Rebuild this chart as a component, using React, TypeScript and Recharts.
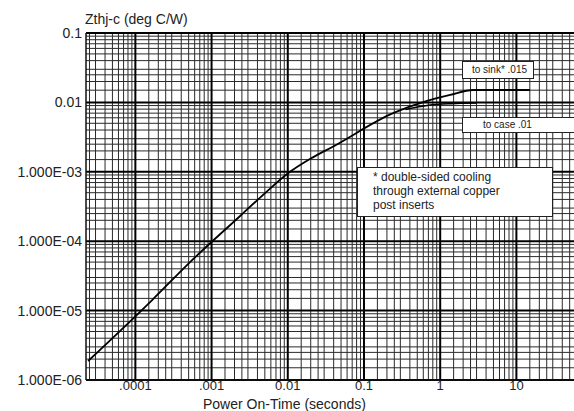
import React from "react";
import {
  LineChart,
  Line,
  XAxis,
  YAxis,
  ReferenceLine,
} from "recharts";

// Thermal impedance curves
const sinkTime = [2.4e-5, 1.66e-4, 5.22e-4, 2.37e-3, 5e-3, 9.8e-3, 0.02, 0.039, 0.241, 0.673, 1.35, 2.7, 15];
const sinkZth = [1.88e-6, 1.42e-5, 5.0e-5, 2.31e-4, 4.9e-4, 9.3e-4, 1.55e-3, 2.3e-3, 7.0e-3, 0.0105, 0.0128, 0.0151, 0.0151];

const caseTime = [0.35, 0.7, 1.4, 3.0];
const caseZth = [0.0079, 0.0091, 0.0096, 0.0098];

const xTicks = [1e-4, 1e-3, 1e-2, 0.1, 1, 10];
const xTickLabels = [".0001", ".001", "0.01", "0.1", "1", "10"];
const yTicks = [1e-6, 1e-5, 1e-4, 1e-3, 1e-2, 0.1];
const yTickLabels = ["1.000E-06", "1.000E-05", "1.000E-04", "1.000E-03", "0.01", "0.1"];

// log graph paper rulings
const xDecades = [1e-5, 1e-4, 1e-3, 1e-2, 0.1, 1, 10];
const yDecades = [1e-6, 1e-5, 1e-4, 1e-3, 1e-2];
const rulings = [1.5, 2, 2.5, 3, 4, 5, 6, 7, 8, 9];

const X_MIN = 2.25e-5;
const X_MAX = 57;

const sinkData = sinkTime.map((t, i) => ({ t, z: sinkZth[i] }));
const caseData = caseTime.map((t, i) => ({ t, z: caseZth[i] }));

const xMinor = xDecades.flatMap((d) => rulings.map((r) => d * r)).filter((v) => v > X_MIN && v < X_MAX);
const yMinor = yDecades.flatMap((d) => rulings.map((r) => d * r));

const FONT = '"Liberation Sans", Arial, sans-serif';

const labelFor = (ticks: number[], labels: string[]) => (v: number) => {
  const i = ticks.findIndex((t) => Math.abs(t - v) / t < 1e-6);
  return i >= 0 ? labels[i] : "";
};

const boxStyle: React.CSSProperties = {
  position: "absolute",
  background: "#fff",
  border: "1.5px solid #222",
  fontFamily: FONT,
  color: "#222",
  boxSizing: "border-box",
};

export default function App() {
  return (
    <div style={{ position: "absolute", left: 0, top: 0, width: 574, height: 411, background: "#fff", overflow: "hidden" }}>
      <LineChart width={574} height={411} margin={{ top: 33, right: 0, bottom: 0, left: 0 }}>
        <XAxis
          dataKey="t"
          type="number"
          scale="log"
          domain={[X_MIN, X_MAX]}
          allowDataOverflow
          ticks={xTicks}
          tickFormatter={labelFor(xTicks, xTickLabels)}
          height={31}
          tickSize={0}
          tickMargin={1}
          axisLine={{ stroke: "#111", strokeWidth: 1.5 }}
          tick={{ fontSize: 13, fill: "#222", fontFamily: FONT }}
        />
        <YAxis
          dataKey="z"
          type="number"
          scale="log"
          domain={[1e-6, 0.1]}
          allowDataOverflow
          ticks={yTicks}
          tickFormatter={labelFor(yTicks, yTickLabels)}
          width={86}
          tickSize={0}
          tickMargin={4}
          axisLine={{ stroke: "#111", strokeWidth: 1.5 }}
          tick={{ fontSize: 14, fill: "#222", fontFamily: FONT }}
        />
        {xMinor.map((v) => (
          <ReferenceLine key={"xm" + v} x={v} stroke="#2a2a2a" strokeWidth={1} ifOverflow="hidden" />
        ))}
        {yMinor.map((v) => (
          <ReferenceLine key={"ym" + v} y={v} stroke="#2a2a2a" strokeWidth={1} ifOverflow="hidden" />
        ))}
        {xTicks.map((v) => (
          <ReferenceLine key={"xM" + v} x={v} stroke="#000" strokeWidth={2} />
        ))}
        {yTicks.map((v) => (
          <ReferenceLine key={"yM" + v} y={v} stroke="#000" strokeWidth={2} />
        ))}
        <Line
          data={sinkData}
          dataKey="z"
          type="monotone"
          stroke="#000"
          strokeWidth={1.8}
          dot={false}
          isAnimationActive={false}
        />
        <Line
          data={caseData}
          dataKey="z"
          type="monotone"
          stroke="#000"
          strokeWidth={1.6}
          dot={false}
          isAnimationActive={false}
        />
      </LineChart>

      <div style={{ position: "absolute", left: 203, top: 397, fontFamily: FONT, fontSize: 14, lineHeight: "14px", color: "#222", whiteSpace: "nowrap" }}>
        Power On-Time (seconds)
      </div>
      <div style={{ position: "absolute", left: 85, top: 11, fontFamily: FONT, fontSize: 14, color: "#222", whiteSpace: "nowrap" }}>
        Zthj-c (deg C/W)
      </div>

      <div style={{ ...boxStyle, left: 462, top: 61, width: 72, height: 18, fontSize: 10, lineHeight: "15px", paddingLeft: 9 }}>
        to sink* .015
      </div>
      <div style={{ ...boxStyle, left: 462, top: 117, width: 120, height: 16, fontSize: 10, lineHeight: "13px", paddingLeft: 20 }}>
        to case .01
      </div>
      <div style={{ ...boxStyle, left: 357, top: 167, width: 196, height: 50, fontSize: 12, lineHeight: "14px", paddingLeft: 15, paddingTop: 2 }}>
        * double-sided cooling
        <br />
        through external copper
        <br />
        post inserts
      </div>
    </div>
  );
}
